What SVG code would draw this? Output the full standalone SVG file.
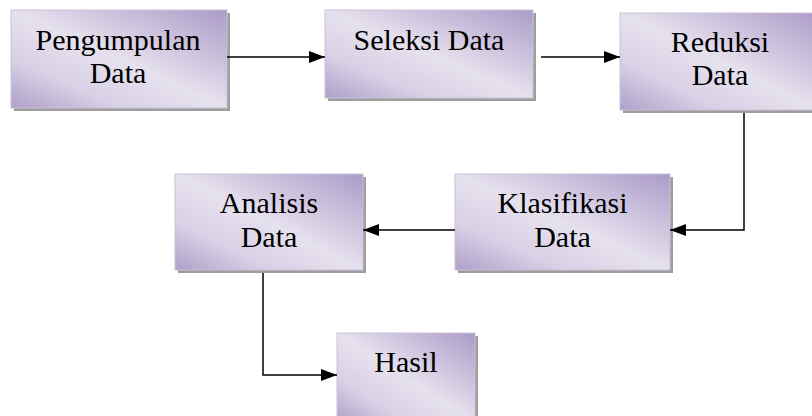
<svg xmlns="http://www.w3.org/2000/svg" width="812" height="416" viewBox="0 0 812 416">
<defs>
<linearGradient id="g" x1="1" y1="0" x2="0" y2="1">
<stop offset="0" stop-color="#ab9bc7"/>
<stop offset="0.5" stop-color="#e6e1ee"/>
<stop offset="0.75" stop-color="#d8d0e5"/>
<stop offset="1" stop-color="#ae9fc9"/>
</linearGradient>
<marker id="ah" viewBox="0 0 16 12" refX="16" refY="6" markerWidth="16" markerHeight="12" markerUnits="userSpaceOnUse" orient="auto">
<path d="M0,0 L16,6 L0,12 Z" fill="#000"/>
</marker>
</defs>
<style>
.sh{fill:#9e9e9e}
.bx{fill:url(#g);stroke:#cbc2da;stroke-width:1}
.t{font-family:"Liberation Serif","Times New Roman",serif;font-size:30px;fill:#000;text-anchor:middle}
.c{fill:none;stroke:#000;stroke-width:1.5}
</style>
<rect width="812" height="416" fill="#fff"/>
<g id="pengumpulan">
<rect class="sh" x="14" y="13" width="216" height="98"/>
<rect class="bx" x="11" y="10" width="216" height="98"/>
<text class="t" x="118" y="50">Pengumpulan</text>
<text class="t" x="118" y="83">Data</text>
</g>
<g id="seleksi">
<rect class="sh" x="328" y="13" width="208" height="88"/>
<rect class="bx" x="325" y="10" width="208" height="88"/>
<text class="t" x="429" y="50">Seleksi Data</text>
</g>
<g id="reduksi">
<rect class="sh" x="623" y="16" width="200" height="97"/>
<rect class="bx" x="620" y="13" width="200" height="97"/>
<text class="t" x="720" y="52">Reduksi</text>
<text class="t" x="720" y="85">Data</text>
</g>
<g id="klasifikasi">
<rect class="sh" x="458" y="177" width="215" height="96"/>
<rect class="bx" x="455" y="174" width="215" height="96"/>
<text class="t" x="562.5" y="213">Klasifikasi</text>
<text class="t" x="562.5" y="247">Data</text>
</g>
<g id="analisis">
<rect class="sh" x="178" y="177" width="188" height="96"/>
<rect class="bx" x="175" y="174" width="188" height="96"/>
<text class="t" x="269" y="213">Analisis</text>
<text class="t" x="269" y="247">Data</text>
</g>
<g id="hasil">
<rect class="sh" x="340" y="336" width="138" height="90"/>
<rect class="bx" x="337" y="333" width="138" height="90"/>
<text class="t" x="406" y="372">Hasil</text>
</g>
<g id="connectors">
<path class="c" d="M227,57 H325" marker-end="url(#ah)"/>
<path class="c" d="M541,57 H620" marker-end="url(#ah)"/>
<path class="c" d="M744,113 V230 H670" marker-end="url(#ah)"/>
<path class="c" d="M455,230 H363" marker-end="url(#ah)"/>
<path class="c" d="M263,273 V375 H337" marker-end="url(#ah)"/>
</g>
</svg>
